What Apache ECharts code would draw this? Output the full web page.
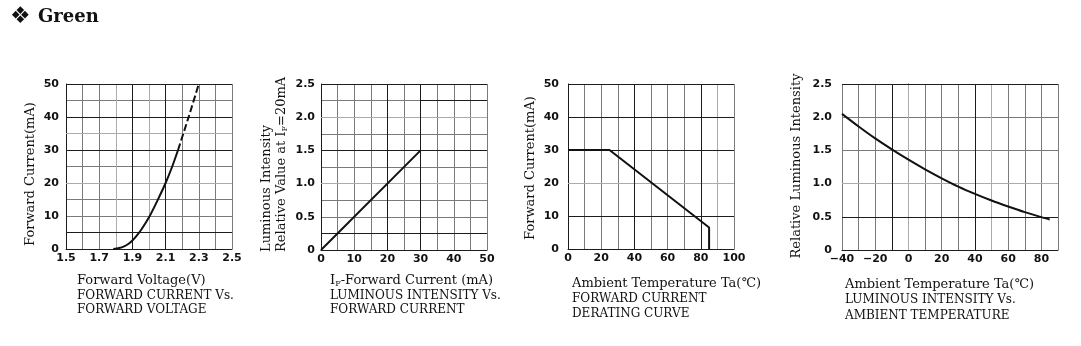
<!DOCTYPE html>
<html>
<head>
<meta charset="utf-8">
<script src="https://cdn.jsdelivr.net/npm/echarts@6/dist/echarts.min.js"></script>
<style>
  html, body { margin: 0; padding: 0; background: #fff; }
  #chart { width: 1081px; height: 346px; }
</style>
</head>
<body>
<div id="chart"></div>
<script>
// ---- Forward current vs forward voltage ----
const fvVolt = [1.785, 1.82, 1.85, 1.875, 1.90, 1.925, 1.95, 2.00, 2.05, 2.10, 2.14, 2.175];
const fvCurr = [0, 0.3, 0.8, 1.5, 2.6, 4.0, 5.6, 9.6, 14.6, 20.0, 25.0, 30.0];
const fvVoltExt = [2.175, 2.24, 2.30];
const fvCurrExt = [30, 40.2, 50];
const fvXTicks = [1.5, 1.7, 1.9, 2.1, 2.3, 2.5];
const fvXLabels = ['1.5', '1.7', '1.9', '2.1', '2.3', '2.5'];
const fvYTicks = [0, 10, 20, 30, 40, 50];
const fvYLabels = ['0', '10', '20', '30', '40', '50'];

// ---- Luminous intensity vs forward current ----
const ivCurr = [0, 30];
const ivRel = [0, 1.5];
const ivXTicks = [0, 10, 20, 30, 40, 50];
const ivXLabels = ['0', '10', '20', '30', '40', '50'];
const ivYTicks = [0, 0.5, 1.0, 1.5, 2.0, 2.5];
const ivYLabels = ['0', '0.5', '1.0', '1.5', '2.0', '2.5'];

// ---- Forward current derating curve ----
const drTemp = [0, 25, 85, 85];
const drCurr = [30, 30, 6.5, 0];
const drXTicks = [0, 20, 40, 60, 80, 100];
const drXLabels = ['0', '20', '40', '60', '80', '100'];
const drYTicks = [0, 10, 20, 30, 40, 50];
const drYLabels = ['0', '10', '20', '30', '40', '50'];

// ---- Luminous intensity vs ambient temperature ----
const taTemp = [-40, -30, -20, -10, 0, 10, 20, 30, 40, 50, 60, 70, 80, 85];
const taRel = [2.05, 1.86, 1.68, 1.515, 1.36, 1.215, 1.08, 0.955, 0.845, 0.745, 0.655, 0.57, 0.495, 0.46];
const taXTicks = [-40, -20, 0, 20, 40, 60, 80];
const taXLabels = ['\u221240', '\u221220', '0', '20', '40', '60', '80'];
const taYTicks = [0, 0.5, 1.0, 1.5, 2.0, 2.5];
const taYLabels = ['0', '0.5', '1.0', '1.5', '2.0', '2.5'];

// ---- texts ----
const headingText = 'Green';
const captions = [
  ['Forward Voltage(V)', 'FORWARD CURRENT Vs.', 'FORWARD VOLTAGE'],
  ['I{s|F}-Forward Current (mA)', 'LUMINOUS INTENSITY Vs.', 'FORWARD CURRENT'],
  ['Ambient Temperature Ta(\u2103)', 'FORWARD CURRENT', 'DERATING CURVE'],
  ['Ambient Temperature Ta(\u2103)', 'LUMINOUS INTENSITY Vs.', 'AMBIENT TEMPERATURE']
];
const yTitles = [
  ['Forward Current(mA)'],
  ['Luminous Intensity', 'Relative Value at I{s|F}=20mA'],
  ['Forward Current(mA)'],
  ['Relative Luminous Intensity']
];

const INK = '#111';
const GRAY = '#7a7a7a';
const LIGHT = '#ababab';
const DARK = '#1c1c1c';
const TEXT_FONT = '"DejaVu Serif", serif';
const TICK_FONT = '"DejaVu Sans", sans-serif';
const CAPS_SIZE = 12;
const MIXED_SIZE = 13;
// first caption line is the axis name (mixed case), the other two are the capitalised chart title
const captionSizes = [MIXED_SIZE, CAPS_SIZE, CAPS_SIZE];

const pairs = (xs, ys) => xs.map((x, i) => [x, ys[i]]);
const labelFor = (ticks, labels) => (v) => {
  const i = ticks.findIndex(t => Math.abs(t - v) < 1e-6);
  return i < 0 ? '' : labels[i];
};

const grids = [
  { left: 66, top: 84, width: 166, height: 165 },
  { left: 321, top: 84, width: 166, height: 166 },
  { left: 568, top: 84, width: 166, height: 165 },
  { left: 842, top: 84, width: 216, height: 166 }
].map(g => Object.assign({ outerBoundsMode: 'none', containLabel: false, show: false }, g));

function axisBase(idx, min, max, interval, ticks, labels, margin) {
  return {
    type: 'value', gridIndex: idx, min, max, interval,
    axisLine: { show: true, lineStyle: { color: DARK, width: 1 } },
    axisTick: { show: false },
    splitLine: { show: true, showMinLine: true, showMaxLine: true, lineStyle: { color: GRAY, width: 1 } },
    axisLabel: {
      margin, color: INK, fontFamily: TICK_FONT, fontWeight: 'bold', fontSize: 11,
      showMinLabel: true, showMaxLabel: true, hideOverlap: false,
      formatter: labelFor(ticks, labels)
    }
  };
}

// emphasised grid lines drawn on top of the regular split lines
function gridAccent(idx, color, xs, ys, segs) {
  const data = [];
  xs.forEach(v => data.push({ xAxis: v }));
  ys.forEach(v => data.push({ yAxis: v }));
  (segs || []).forEach(s => data.push([{ coord: s[0] }, { coord: s[1] }]));
  return {
    type: 'line', xAxisIndex: idx, yAxisIndex: idx, data: [], silent: true, z: 1,
    markLine: {
      silent: true, symbol: ['none', 'none'], animation: false,
      label: { show: false },
      lineStyle: { type: 'solid', color, width: 1 },
      emphasis: { disabled: true },
      data
    }
  };
}

function curve(idx, data, opts) {
  return Object.assign({
    type: 'line', xAxisIndex: idx, yAxisIndex: idx, data,
    showSymbol: false, symbol: 'none', silent: true, animation: false, z: 5,
    lineStyle: { color: INK, width: 2 }
  }, opts || {});
}

const captionX = [77, 330, 572, 845];
const captionY = [[281, 296, 310], [281, 296, 310], [284, 299, 314], [285, 300, 316]];
const graphic = [];
graphic.push({ type: 'text', x: 10, y: 17, style: { text: '\u2756', font: '23px "DejaVu Sans"', fill: INK, verticalAlign: 'middle' } });
graphic.push({ type: 'text', x: 38, y: 17, style: { text: headingText, font: 'bold 18px "DejaVu Serif"', fill: INK, verticalAlign: 'middle' } });

const subRich = (size) => ({ s: { fontSize: 8, fontFamily: TEXT_FONT, fill: INK, verticalAlign: 'bottom', lineHeight: size } });
captions.forEach((lines, c) => {
  lines.forEach((t, k) => {
    const size = captionSizes[k];
    graphic.push({
      type: 'text', x: captionX[c], y: captionY[c][k],
      style: { text: t, font: size + 'px ' + TEXT_FONT, fill: INK, verticalAlign: 'middle', rich: subRich(size) }
    });
  });
});

// vertical axis titles
const yTitlePos = [
  [{ x: 31, y: 174, align: 'center' }],
  [{ x: 267, y: 252, align: 'left' }, { x: 282, y: 252, align: 'left' }],
  [{ x: 531, y: 168, align: 'center' }],
  [{ x: 797, y: 166, align: 'center' }]
];
yTitles.forEach((lines, c) => {
  lines.forEach((t, k) => {
    const p = yTitlePos[c][k];
    graphic.push({
      type: 'text', x: p.x, y: p.y, rotation: Math.PI / 2,
      style: { text: t, font: MIXED_SIZE + 'px ' + TEXT_FONT, fill: INK, align: p.align, verticalAlign: 'middle', rich: subRich(MIXED_SIZE) }
    });
  });
});

const option = {
  animation: false,
  backgroundColor: '#fff',
  grid: grids,
  xAxis: [
    axisBase(0, 1.5, 2.5, 0.1, fvXTicks, fvXLabels, 4),
    axisBase(1, 0, 50, 5, ivXTicks, ivXLabels, 4),
    axisBase(2, 0, 100, 10, drXTicks, drXLabels, 4),
    axisBase(3, -40, 90, 10, taXTicks, taXLabels, 4)
  ],
  yAxis: [
    axisBase(0, 0, 50, 5, fvYTicks, fvYLabels, 7),
    axisBase(1, 0, 2.5, 0.25, ivYTicks, ivYLabels, 6),
    axisBase(2, 0, 50, 10, drYTicks, drYLabels, 9),
    axisBase(3, 0, 2.5, 0.5, taYTicks, taYLabels, 10)
  ],
  series: [
    gridAccent(0, LIGHT, [1.8, 2.0], [20, 35]),
    gridAccent(0, DARK, [1.9, 2.1], [5, 30, 40, 50]),
    curve(0, pairs(fvVolt, fvCurr), { smooth: 0.25 }),
    curve(0, pairs(fvVoltExt, fvCurrExt), { smooth: 0.2, lineStyle: { color: INK, width: 2, type: [7, 3] } }),

    gridAccent(1, LIGHT, [], [1.0, 2.0]),
    gridAccent(1, DARK, [20, 30], [0.25, 1.5, 2.5], [[[30, 2.25], [50, 2.25]]]),
    curve(1, pairs(ivCurr, ivRel)),

    gridAccent(2, LIGHT, [90], [20]),
    gridAccent(2, DARK, [40, 80], [10, 30, 40, 50]),
    curve(2, pairs(drTemp, drCurr)),

    gridAccent(3, LIGHT, [0, 50], [1.0]),
    gridAccent(3, DARK, [-10, 40], [0.5, 2.5]),
    curve(3, pairs(taTemp, taRel), { smooth: 0.3 })
  ],
  graphic
};

const chart = echarts.init(document.getElementById('chart'), null, { renderer: 'canvas' });
chart.setOption(option);
</script>
</body>
</html>
